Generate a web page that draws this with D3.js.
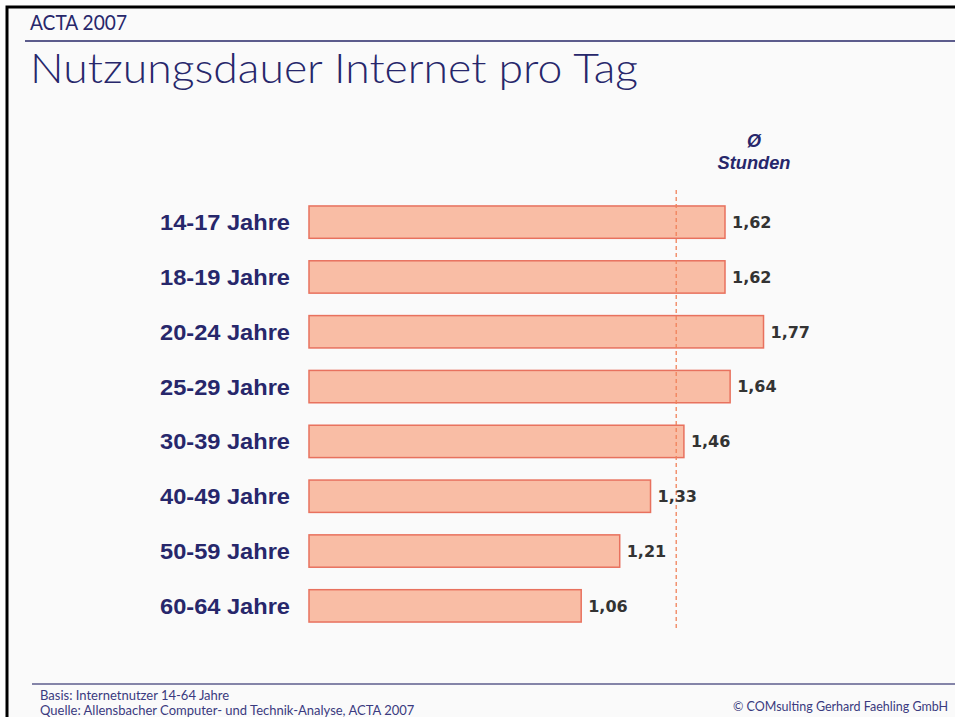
<!DOCTYPE html>
<html>
<head>
<meta charset="utf-8">
<script src="https://cdn.jsdelivr.net/npm/d3@7"></script>
<style>
    body { margin: 0; background: #fff; }
    svg { display: block; }
</style>
</head>
<body>
<svg id="chart" width="955" height="717"></svg>
<script>
var ageGroups = ['14-17 Jahre', '18-19 Jahre', '20-24 Jahre', '25-29 Jahre',
                 '30-39 Jahre', '40-49 Jahre', '50-59 Jahre', '60-64 Jahre']
var hours = [1.62, 1.62, 1.77, 1.64, 1.46, 1.33, 1.21, 1.06]
var averageHours = 1.43
var valueLabels = ['1,62', '1,62', '1,77', '1,64', '1,46', '1,33', '1,21', '1,06']

var navy = '#27276b'
var svg = d3.select('#chart')

// slide frame
svg.append('rect').attr('x', 7).attr('y', 7).attr('width', 960).attr('height', 720)
    .attr('fill', '#fafafa').attr('stroke', '#000').attr('stroke-width', 3)

svg.append('text').attr('x', 30).attr('y', 30)
    .attr('font-family', 'Lato, "Open Sans", sans-serif').attr('font-size', 21)
    .attr('fill', navy).attr('textLength', 97).attr('lengthAdjust', 'spacingAndGlyphs').text('ACTA 2007')
svg.append('line').attr('x1', 25).attr('x2', 955).attr('y1', 41).attr('y2', 41)
    .attr('stroke', '#5c5c8c').attr('stroke-width', 2)
svg.append('text').attr('x', 30).attr('y', 83)
    .attr('font-family', 'Lato, "Open Sans", sans-serif').attr('font-weight', 300).attr('font-size', 41)
    .attr('fill', navy).attr('textLength', 608).attr('lengthAdjust', 'spacingAndGlyphs')
    .text('Nutzungsdauer Internet pro Tag')

var x = d3.scaleLinear().domain([0, 1.62]).range([309, 725])
var y = d3.scaleBand().domain(ageGroups).range([195, 633]).paddingInner(0.41).paddingOuter(0.2)

svg.selectAll('rect.bar')
    .data(hours)
    .enter().append('rect')
    .attr('class', 'bar')
    .attr('x', x(0))
    .attr('y', function(d, i) { return y(ageGroups[i]) })
    .attr('width', function(d) { return x(d) - x(0) })
    .attr('height', y.bandwidth())
    .attr('fill', '#f9bda5')
    .attr('stroke', '#e8715e')
    .attr('stroke-width', 1.5)

svg.append('line')
    .attr('x1', x(averageHours)).attr('x2', x(averageHours))
    .attr('y1', 190).attr('y2', 630)
    .attr('stroke', '#f0825a').attr('stroke-width', 1.3).attr('stroke-dasharray', '4,3')

svg.selectAll('text.cat')
    .data(ageGroups)
    .enter().append('text')
    .attr('class', 'cat')
    .attr('x', 290)
    .attr('y', function(d) { return y(d) + y.bandwidth() / 2 })
    .attr('dy', '0.36em')
    .attr('text-anchor', 'end')
    .attr('font-family', 'Arial, "Liberation Sans", sans-serif')
    .attr('font-weight', 'bold').attr('font-size', 22)
    .attr('textLength', 130).attr('lengthAdjust', 'spacingAndGlyphs')
    .attr('fill', navy)
    .text(function(d) { return d })

svg.selectAll('text.val')
    .data(hours)
    .enter().append('text')
    .attr('class', 'val')
    .attr('x', function(d) { return x(d) + 7 })
    .attr('y', function(d, i) { return y(ageGroups[i]) + y.bandwidth() / 2 })
    .attr('dy', '0.36em')
    .attr('font-family', '"DejaVu Sans", sans-serif')
    .attr('font-weight', 'bold').attr('font-size', 16)
    .attr('fill', '#333')
    .text(function(d, i) { return valueLabels[i] })

svg.append('text').attr('x', 754).attr('y', 147).attr('text-anchor', 'middle')
    .attr('font-family', 'Arial, "Liberation Sans", sans-serif').attr('font-weight', 'bold')
    .attr('font-style', 'italic').attr('font-size', 18).attr('fill', navy).text('Ø')
svg.append('text').attr('x', 754).attr('y', 169).attr('text-anchor', 'middle')
    .attr('font-family', 'Arial, "Liberation Sans", sans-serif').attr('font-weight', 'bold')
    .attr('font-style', 'italic').attr('font-size', 18)
    .attr('textLength', 73).attr('lengthAdjust', 'spacingAndGlyphs')
    .attr('fill', navy).text('Stunden')

// footer
svg.append('line').attr('x1', 32).attr('x2', 955).attr('y1', 684).attr('y2', 684)
    .attr('stroke', '#5c5c8c').attr('stroke-width', 1.5)
svg.append('text').attr('x', 40).attr('y', 700)
    .attr('font-family', 'Lato, sans-serif').attr('font-size', 13).attr('fill', '#3a3a80')
    .text('Basis: Internetnutzer 14-64 Jahre')
svg.append('text').attr('x', 40).attr('y', 715)
    .attr('font-family', 'Lato, sans-serif').attr('font-size', 13).attr('fill', '#3a3a80')
    .text('Quelle: Allensbacher Computer- und Technik-Analyse, ACTA 2007')
svg.append('text').attr('x', 733).attr('y', 711)
    .attr('font-family', 'Lato, sans-serif').attr('font-size', 12.5).attr('fill', '#3a3a80')
    .text('© COMsulting Gerhard Faehling GmbH')
</script>
</body>
</html>
